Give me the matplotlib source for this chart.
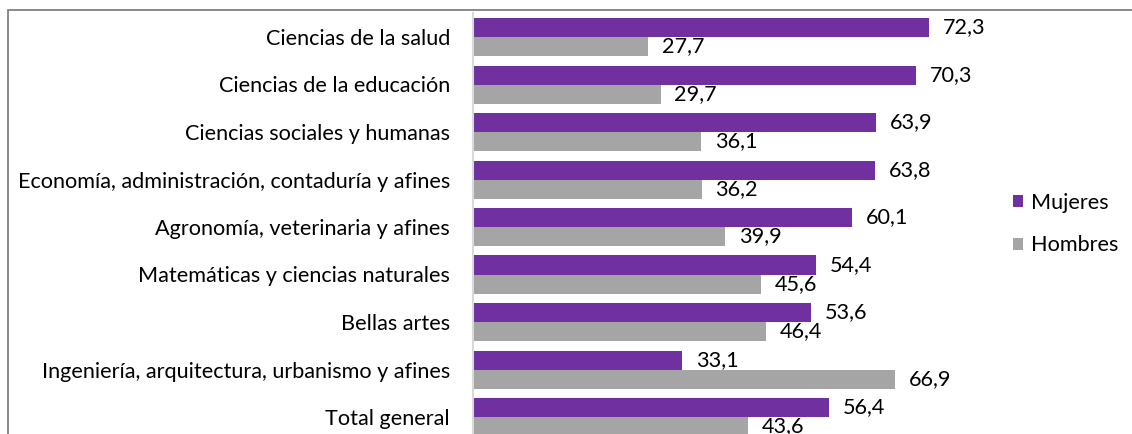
import matplotlib

matplotlib.use("Agg")
import matplotlib.pyplot as plt
from matplotlib.patches import Rectangle
import numpy as np

categories = [
    "Ciencias de la salud",
    "Ciencias de la educación",
    "Ciencias sociales y humanas",
    "Economía, administración, contaduría y afines",
    "Agronomía, veterinaria y afines",
    "Matemáticas y ciencias naturales",
    "Bellas artes",
    "Ingeniería, arquitectura, urbanismo y afines",
    "Total general",
]
mujeres = [72.3, 70.3, 63.9, 63.8, 60.1, 54.4, 53.6, 33.1, 56.4]
hombres = [27.7, 29.7, 36.1, 36.2, 39.9, 45.6, 46.4, 66.9, 43.6]

PURPLE = "#7030A0"
GREY = "#A5A5A5"
W, H = 1132, 434
FS = 15.6

plt.rcParams["font.family"] = ["Lato", "DejaVu Sans"]

fig = plt.figure(figsize=(W / 100, H / 100), dpi=100)

# outer frame (cut off at right and bottom in the reference)
fig.patches.append(
    Rectangle((8 / W, -0.1), 1.2, (H - 10) / H + 0.1, transform=fig.transFigure,
              fill=False, edgecolor="#767676", linewidth=1.2)
)

# axes: x 0 at px 473.5, 6.3 px per unit; categories 47.5 px apart
left = 473.5 / W
xmax = 80
width = xmax * 6.30 / W
top = H - 13.25
bottom = top - 9 * 47.5
ax = fig.add_axes([left, bottom / H, width, (top - bottom) / H])

y = np.arange(len(categories))
bh = 0.4
bars_m = ax.barh(y - bh / 2, mujeres, height=bh, color=PURPLE, label="Mujeres")
bars_h = ax.barh(y + bh / 2, hombres, height=bh, color=GREY, label="Hombres")

for bars, vals in ((bars_m, mujeres), (bars_h, hombres)):
    for b, v in zip(bars, vals):
        ax.annotate(f"{v:.1f}".replace(".", ","),
                    (b.get_width(), b.get_y() + b.get_height() / 2),
                    xytext=(10, 0), textcoords="offset points",
                    va="center", ha="left", fontsize=FS, color="#000000")

ax.set_xlim(0, xmax)
ax.set_ylim(len(categories) - 0.5, -0.5)
ax.set_yticks(y)
ax.set_yticklabels(categories, fontsize=FS)
ax.tick_params(axis="y", length=0, pad=17)
ax.set_xticks([])
for s in ("top", "right", "bottom"):
    ax.spines[s].set_visible(False)
ax.spines["left"].set_color("#D9D9D9")
ax.spines["left"].set_linewidth(1.5)

ax.legend(loc="center left", bbox_to_anchor=(1013 / W, 1 - 224 / H),
          bbox_transform=fig.transFigure, frameon=False, fontsize=FS,
          borderpad=0, borderaxespad=0,
          handlelength=0.48, handleheight=0.48, handletextpad=0.35,
          labelspacing=1.05)

fig.savefig("out.png", dpi=100)
